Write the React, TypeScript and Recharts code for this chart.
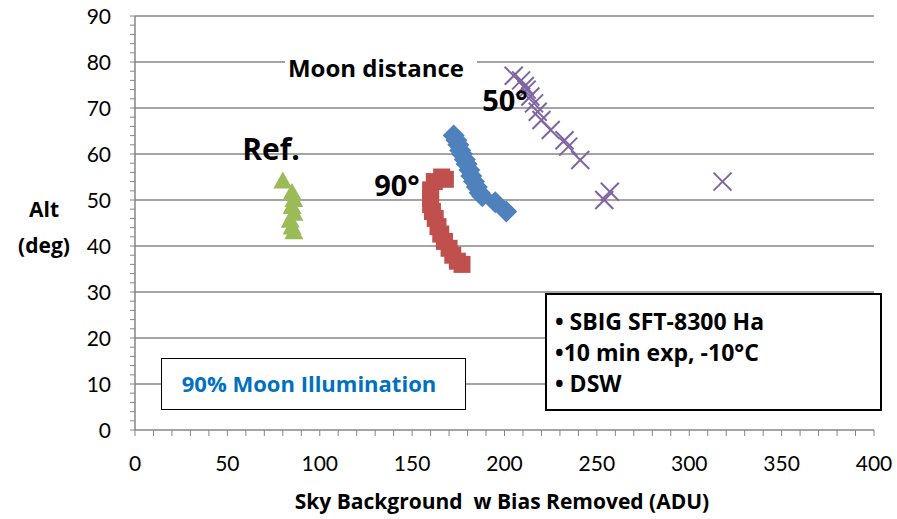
import React from 'react';
import { ScatterChart, Scatter, XAxis, YAxis, CartesianGrid } from 'recharts';

// values
const refPoints = [[80, 54], [85, 51.5], [86, 50], [85, 48.5], [86, 47], [84, 45.5], [85, 44], [86, 43]];
const deg90Points = [
  [166, 55], [168, 54.5], [162, 54], [160, 52.2], [160, 50.4], [160, 49], [161, 47.5], [162.5, 46], [164, 44.2],
  [165.5, 42.6], [167.5, 41], [170, 39.5], [172, 38], [174.5, 36.7], [177, 36],
];
const deg50Points = [
  [172.5, 64], [174, 63], [175, 62], [176, 60.8], [177, 60], [178.5, 58.8], [179.5, 57.8], [181, 56.5], [182, 55.2],
  [183.5, 54], [185, 52.8], [186.5, 51.6], [188, 50.8], [195, 49.5], [201, 47.5],
];
const moonDistPoints = [
  [205, 77], [209, 76], [211, 74.8], [212, 74], [214, 72.5], [216, 71], [218, 69.2], [220, 67.4], [225, 65.2],
  [232.5, 63], [234.5, 61.6], [241, 58.7], [254, 50], [257, 51.8], [318, 54],
];

const xMajor = [0, 50, 100, 150, 200, 250, 300, 350, 400];
const yMajor = [0, 10, 20, 30, 40, 50, 60, 70, 80, 90];
const xTicks: number[] = [];
for (let v = 0; v <= 400; v += 10) xTicks.push(v);
const yTicks: number[] = [];
for (let v = 0; v <= 90; v += 2) yTicks.push(v);

const toXY = (arr: number[][]) => arr.map(([x, y]) => ({ x, y }));

const FONT = 'Lato, "Open Sans", sans-serif';
const BOLD = '"Open Sans", Lato, sans-serif';
const GREY = '#868686';

const Triangle = (p: any) => (
  <polygon points={`${p.cx},${p.cy - 10} ${p.cx - 9.5},${p.cy + 7} ${p.cx + 9.5},${p.cy + 7}`} fill="#9BBB59" />
);
const Square = (p: any) => <rect x={p.cx - 8.5} y={p.cy - 8.5} width={17} height={17} fill="#C0504D" />;
const Diamond = (p: any) => (
  <polygon points={`${p.cx},${p.cy - 11} ${p.cx + 11},${p.cy} ${p.cx},${p.cy + 11} ${p.cx - 11},${p.cy}`} fill="#4F81BD" />
);
const Cross = (p: any) => (
  <g stroke="#8064A2" strokeWidth={2}>
    <line x1={p.cx - 9} y1={p.cy - 9} x2={p.cx + 9} y2={p.cy + 9} />
    <line x1={p.cx - 9} y1={p.cy + 9} x2={p.cx + 9} y2={p.cy - 9} />
  </g>
);

const XTick = (p: any) => {
  if (!xMajor.includes(p.payload.value)) return <g />;
  return (
    <text x={p.x} y={p.y} dy={33} textAnchor="middle" fontFamily={FONT} fontSize={21} fill="#000">
      {p.payload.value}
    </text>
  );
};
const YTick = (p: any) => {
  if (!yMajor.includes(p.payload.value)) return <g />;
  return (
    <text x={p.x} y={p.y} dy={7.5} textAnchor="end" fontFamily={FONT} fontSize={21} fill="#000">
      {p.payload.value}
    </text>
  );
};

const abs = (left: number, top: number, extra: React.CSSProperties = {}): React.CSSProperties => ({
  position: 'absolute', left, top, whiteSpace: 'nowrap', fontFamily: BOLD, fontWeight: 700, color: '#000',
  lineHeight: 1.2, ...extra,
});
const centered = 'translate(-50%, -50%)';

export default function App() {
  return (
    <div style={{ position: 'absolute', left: 0, top: 0, width: 897, height: 519, background: '#fff' }}>
      <ScatterChart width={897} height={519} margin={{ top: 16, right: 23, bottom: 49, left: 0 }}>
        <CartesianGrid vertical={false} horizontalValues={yMajor.filter((v) => v > 0)} stroke={GREY} strokeWidth={1.5} />
        <XAxis type="number" dataKey="x" domain={[0, 400]} ticks={xTicks} interval={0} height={40}
          axisLine={{ stroke: GREY, strokeWidth: 1.5 }} tickLine={{ stroke: GREY }} tickSize={6} tick={<XTick />} />
        <YAxis type="number" dataKey="y" domain={[0, 90]} ticks={yTicks} interval={0} width={135}
          axisLine={{ stroke: GREY, strokeWidth: 1.5 }} tickLine={{ stroke: GREY }} tickSize={5} tickMargin={19} tick={<YTick />} />
        <Scatter data={toXY(refPoints)} shape={Triangle} isAnimationActive={false} />
        <Scatter data={toXY(deg90Points)} shape={Square} isAnimationActive={false} />
        <Scatter data={toXY(deg50Points)} shape={Diamond} isAnimationActive={false} />
        <Scatter data={toXY(moonDistPoints)} shape={Cross} isAnimationActive={false} />
      </ScatterChart>

      <div style={abs(44, 210, { fontSize: 21, transform: centered })}>Alt</div>
      <div style={abs(44, 246, { fontSize: 21, transform: centered })}>(deg)</div>
      <div style={abs(502, 502, { fontSize: 21, transform: centered })}>
        Sky Background&nbsp;&nbsp;w Bias Removed (ADU)
      </div>

      <div style={{ position: 'absolute', left: 285, top: 52, width: 192, height: 32, background: '#fff' }} />
      <div style={abs(376, 68, { fontSize: 24, transform: centered })}>Moon distance</div>
      <div style={abs(505, 100, { fontSize: 29, transform: centered })}>50°</div>
      <div style={abs(271, 149, { fontSize: 30, transform: centered })}>Ref.</div>
      <div style={abs(397, 185, { fontSize: 29, transform: centered })}>90°</div>

      <div style={{ position: 'absolute', left: 161, top: 358, width: 305, height: 52, boxSizing: 'border-box',
        border: '1.5px solid #000', background: '#fff' }} />
      <div style={abs(309, 383, { fontSize: 22, color: '#0070C0', transform: centered })}>
        90% Moon Illumination
      </div>

      <div style={{ position: 'absolute', left: 545, top: 293, width: 337, height: 118, boxSizing: 'border-box',
        border: '2px solid #000', background: '#fff' }} />
      <div style={abs(555, 322, { fontSize: 23, transform: 'translateY(-50%)' })}>• SBIG SFT-8300 Ha</div>
      <div style={abs(555, 353, { fontSize: 23, transform: 'translateY(-50%)' })}>•10 min exp, -10°C</div>
      <div style={abs(555, 384, { fontSize: 23, transform: 'translateY(-50%)' })}>• DSW</div>
    </div>
  );
}
